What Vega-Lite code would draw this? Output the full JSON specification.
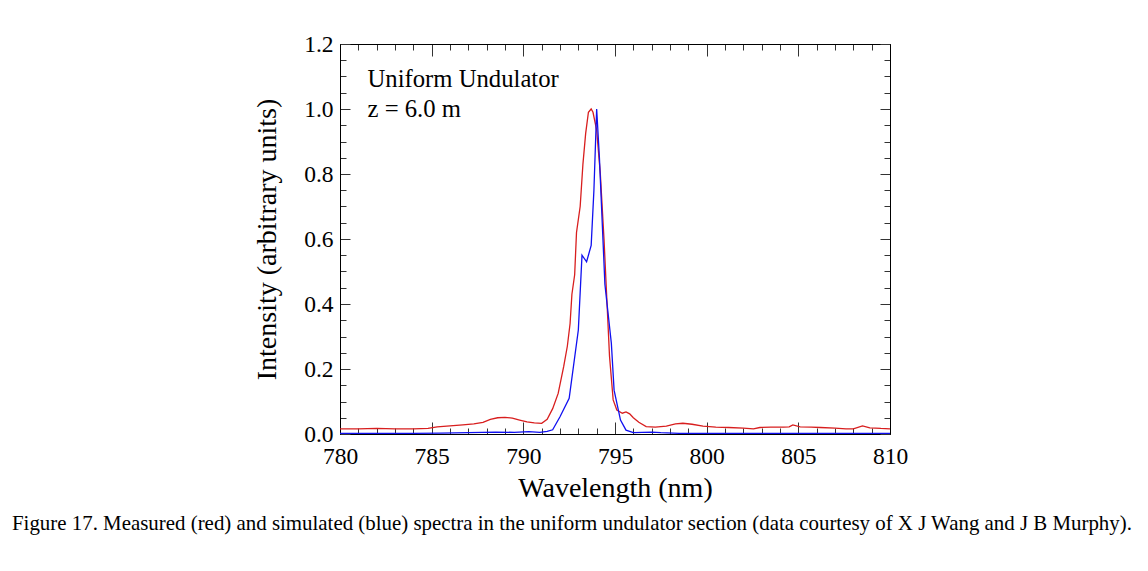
{
  "$schema": "https://vega.github.io/schema/vega-lite/v6.json",
  "width": 550,
  "height": 390,
  "autosize": {"type": "none"},
  "padding": {"left": 340, "top": 44, "right": 258, "bottom": 137},
  "background": "white",
  "config": {
    "view": {"stroke": "black", "strokeWidth": 1},
    "font": "Liberation Serif",
    "axis": {"grid": false, "domainColor": "black", "tickColor": "#333333", "labelColor": "black", "titleColor": "black", "labelFont": "Liberation Serif", "titleFont": "Liberation Serif", "labelFontSize": 23.5, "titleFontSize": 28, "titleFontWeight": "normal"}
  },
  "title": {
    "text": "Figure 17. Measured (red) and simulated (blue) spectra in the uniform undulator section (data courtesy of X J Wang and J B Murphy).",
    "orient": "bottom",
    "anchor": "start",
    "frame": "group",
    "dx": -328,
    "offset": 10,
    "font": "Liberation Serif",
    "fontSize": 20.9,
    "fontWeight": "normal",
    "color": "black"
  },
  "datasets": {
    "measured": [
      {"wavelength": 780.0, "intensity": 0.016}, {"wavelength": 781.0, "intensity": 0.016}, {"wavelength": 782.0, "intensity": 0.017},
      {"wavelength": 783.0, "intensity": 0.016}, {"wavelength": 784.0, "intensity": 0.016}, {"wavelength": 784.8, "intensity": 0.017},
      {"wavelength": 785.3, "intensity": 0.022}, {"wavelength": 786.0, "intensity": 0.025}, {"wavelength": 786.7, "intensity": 0.028},
      {"wavelength": 787.3, "intensity": 0.031}, {"wavelength": 787.8, "intensity": 0.036}, {"wavelength": 788.2, "intensity": 0.045},
      {"wavelength": 788.6, "intensity": 0.050}, {"wavelength": 789.0, "intensity": 0.051}, {"wavelength": 789.4, "intensity": 0.049},
      {"wavelength": 789.8, "intensity": 0.043}, {"wavelength": 790.2, "intensity": 0.037}, {"wavelength": 790.6, "intensity": 0.034},
      {"wavelength": 791.0, "intensity": 0.033}, {"wavelength": 791.3, "intensity": 0.045}, {"wavelength": 791.6, "intensity": 0.078},
      {"wavelength": 791.9, "intensity": 0.125}, {"wavelength": 792.2, "intensity": 0.207}, {"wavelength": 792.4, "intensity": 0.27},
      {"wavelength": 792.55, "intensity": 0.34}, {"wavelength": 792.65, "intensity": 0.43}, {"wavelength": 792.8, "intensity": 0.49},
      {"wavelength": 792.9, "intensity": 0.62}, {"wavelength": 793.1, "intensity": 0.70}, {"wavelength": 793.25, "intensity": 0.83},
      {"wavelength": 793.4, "intensity": 0.925}, {"wavelength": 793.55, "intensity": 0.99}, {"wavelength": 793.7, "intensity": 1.0},
      {"wavelength": 793.8, "intensity": 0.99}, {"wavelength": 794.0, "intensity": 0.935}, {"wavelength": 794.2, "intensity": 0.80},
      {"wavelength": 794.4, "intensity": 0.60}, {"wavelength": 794.55, "intensity": 0.42}, {"wavelength": 794.7, "intensity": 0.24},
      {"wavelength": 794.9, "intensity": 0.105}, {"wavelength": 795.1, "intensity": 0.074}, {"wavelength": 795.4, "intensity": 0.064},
      {"wavelength": 795.6, "intensity": 0.068}, {"wavelength": 795.8, "intensity": 0.062}, {"wavelength": 796.0, "intensity": 0.050},
      {"wavelength": 796.3, "intensity": 0.036}, {"wavelength": 796.7, "intensity": 0.023}, {"wavelength": 797.2, "intensity": 0.021},
      {"wavelength": 797.8, "intensity": 0.024}, {"wavelength": 798.3, "intensity": 0.031}, {"wavelength": 798.7, "intensity": 0.033},
      {"wavelength": 799.2, "intensity": 0.030}, {"wavelength": 799.8, "intensity": 0.024}, {"wavelength": 800.5, "intensity": 0.021},
      {"wavelength": 801.2, "intensity": 0.020}, {"wavelength": 802.0, "intensity": 0.018}, {"wavelength": 802.55, "intensity": 0.016},
      {"wavelength": 802.9, "intensity": 0.020}, {"wavelength": 803.5, "intensity": 0.021}, {"wavelength": 804.2, "intensity": 0.021},
      {"wavelength": 804.5, "intensity": 0.022}, {"wavelength": 804.7, "intensity": 0.028}, {"wavelength": 805.1, "intensity": 0.022},
      {"wavelength": 805.7, "intensity": 0.021}, {"wavelength": 806.2, "intensity": 0.020}, {"wavelength": 807.0, "intensity": 0.018},
      {"wavelength": 807.6, "intensity": 0.016}, {"wavelength": 808.0, "intensity": 0.016}, {"wavelength": 808.5, "intensity": 0.025},
      {"wavelength": 808.9, "intensity": 0.019}, {"wavelength": 809.5, "intensity": 0.017}, {"wavelength": 810.0, "intensity": 0.016}
    ],
    "simulated": [
      {"wavelength": 780.0, "intensity": 0.002}, {"wavelength": 782.0, "intensity": 0.002}, {"wavelength": 784.0, "intensity": 0.002},
      {"wavelength": 785.5, "intensity": 0.003}, {"wavelength": 787.0, "intensity": 0.004}, {"wavelength": 788.5, "intensity": 0.006},
      {"wavelength": 789.5, "intensity": 0.005}, {"wavelength": 790.3, "intensity": 0.007}, {"wavelength": 790.9, "intensity": 0.005},
      {"wavelength": 791.3, "intensity": 0.008}, {"wavelength": 791.6, "intensity": 0.013}, {"wavelength": 792.0, "intensity": 0.053},
      {"wavelength": 792.5, "intensity": 0.11}, {"wavelength": 793.0, "intensity": 0.32}, {"wavelength": 793.2, "intensity": 0.55},
      {"wavelength": 793.45, "intensity": 0.53}, {"wavelength": 793.7, "intensity": 0.58}, {"wavelength": 793.85, "intensity": 0.75},
      {"wavelength": 794.0, "intensity": 1.0}, {"wavelength": 794.15, "intensity": 0.85}, {"wavelength": 794.45, "intensity": 0.46},
      {"wavelength": 794.8, "intensity": 0.28}, {"wavelength": 794.95, "intensity": 0.135}, {"wavelength": 795.3, "intensity": 0.043},
      {"wavelength": 795.6, "intensity": 0.012}, {"wavelength": 796.0, "intensity": 0.004}, {"wavelength": 797.0, "intensity": 0.006},
      {"wavelength": 797.5, "intensity": 0.004}, {"wavelength": 798.5, "intensity": 0.002}, {"wavelength": 800.0, "intensity": 0.002},
      {"wavelength": 805.0, "intensity": 0.002}, {"wavelength": 810.0, "intensity": 0.002}
    ],
    "notes": [
      {"label": "Uniform Undulator", "line": 1},
      {"label": "z = 6.0 m", "line": 2}
    ]
  },
  "layer": [
    {
      "data": {"name": "measured"},
      "mark": {"type": "line", "color": "#d81e1e", "strokeWidth": 1.3, "clip": true},
      "encoding": {
        "x": {"field": "wavelength", "type": "quantitative", "scale": {"domain": [780, 810], "nice": false, "zero": false},
          "axis": {"orient": "bottom", "title": "Wavelength (nm)", "values": [780,781,782,783,784,785,786,787,788,789,790,791,792,793,794,795,796,797,798,799,800,801,802,803,804,805,806,807,808,809,810],
            "labelExpr": "datum.value % 5 === 0 ? datum.label : ''", "tickSize": {"condition": {"test": "datum.value % 5 === 0", "value": -12}, "value": -6},
            "labelPadding": 22, "titlePadding": 1, "labelOverlap": false, "labelFlush": false}},
        "y": {"field": "intensity", "type": "quantitative", "scale": {"domain": [0, 1.2], "nice": false},
          "axis": {"orient": "left", "title": "Intensity (arbitrary units)", "values": [0,0.05,0.1,0.15,0.2,0.25,0.3,0.35,0.4,0.45,0.5,0.55,0.6,0.65,0.7,0.75,0.8,0.85,0.9,0.95,1.0,1.05,1.1,1.15,1.2],
            "labelExpr": "abs(datum.value*10 - round(datum.value*10)) < 0.01 && round(datum.value*10) % 2 === 0 ? format(datum.value, '.1f') : ''",
            "tickSize": {"condition": {"test": "abs(datum.value*10 - round(datum.value*10)) < 0.01 && round(datum.value*10) % 2 === 0", "value": -10}, "value": -6},
            "labelPadding": 17, "titlePadding": 22, "labelOverlap": false, "labelFlush": false}}
      }
    },
    {
      "data": {"name": "simulated"},
      "mark": {"type": "line", "color": "#1010f0", "strokeWidth": 1.3, "clip": true},
      "encoding": {
        "x": {"field": "wavelength", "type": "quantitative",
          "axis": {"orient": "top", "title": null, "labels": false, "values": [780,781,782,783,784,785,786,787,788,789,790,791,792,793,794,795,796,797,798,799,800,801,802,803,804,805,806,807,808,809,810],
            "tickSize": {"condition": {"test": "datum.value % 5 === 0", "value": -12}, "value": -6}}},
        "y": {"field": "intensity", "type": "quantitative",
          "axis": {"orient": "right", "title": null, "labels": false, "values": [0,0.05,0.1,0.15,0.2,0.25,0.3,0.35,0.4,0.45,0.5,0.55,0.6,0.65,0.7,0.75,0.8,0.85,0.9,0.95,1.0,1.05,1.1,1.15,1.2],
            "tickSize": {"condition": {"test": "abs(datum.value*10 - round(datum.value*10)) < 0.01 && round(datum.value*10) % 2 === 0", "value": -10}, "value": -6}}}
      }
    },
    {
      "data": {"name": "notes"},
      "transform": [{"filter": "datum.line === 1"}],
      "mark": {"type": "text", "align": "left", "baseline": "alphabetic", "fontSize": 24.7, "font": "Liberation Serif", "color": "black"},
      "encoding": {"x": {"datum": 781.5, "type": "quantitative", "axis": null}, "y": {"datum": 1.069, "type": "quantitative", "axis": null}, "text": {"field": "label"}}
    },
    {
      "data": {"name": "notes"},
      "transform": [{"filter": "datum.line === 2"}],
      "mark": {"type": "text", "align": "left", "baseline": "alphabetic", "fontSize": 24.7, "font": "Liberation Serif", "color": "black"},
      "encoding": {"x": {"datum": 781.5, "type": "quantitative", "axis": null}, "y": {"datum": 0.976, "type": "quantitative", "axis": null}, "text": {"field": "label"}}
    }
  ],
  "resolve": {"axis": {"x": "independent", "y": "independent"}}
}
